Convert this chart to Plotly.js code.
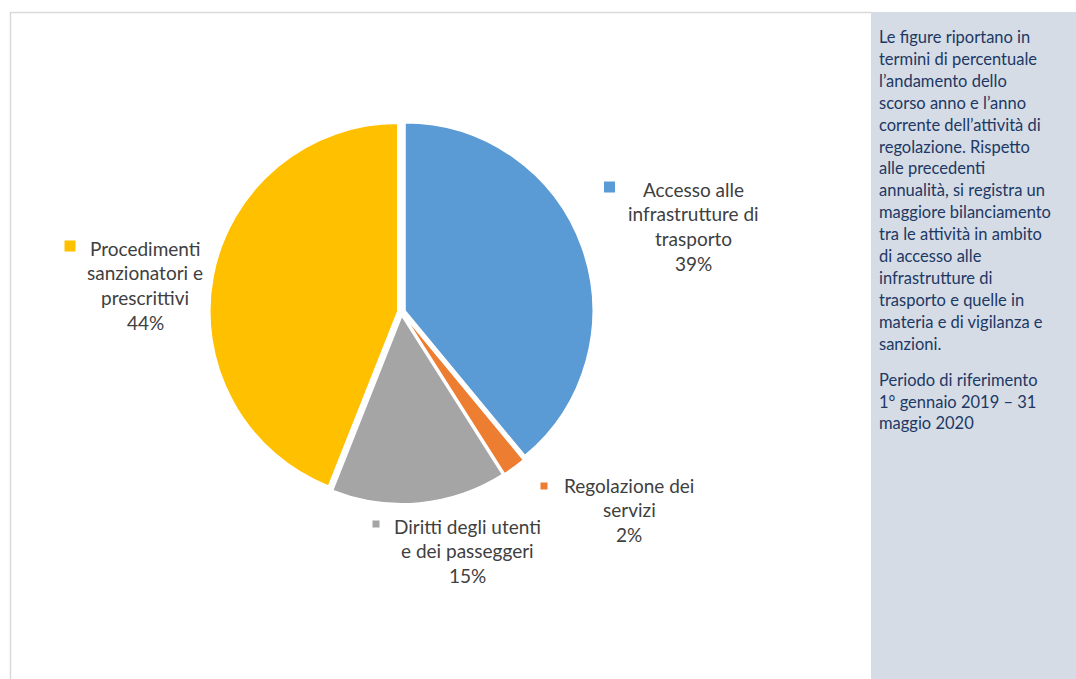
<!DOCTYPE html>
<html>
<head>
<meta charset="utf-8">
<script src="https://cdn.plot.ly/plotly-3.0.1.min.js"></script>
<style>
  html, body { margin: 0; padding: 0; background: #ffffff; }
  #chart { width: 1076px; height: 679px; }
</style>
</head>
<body>
<div id="chart"></div>
<script>
// ---- data ----
const categories = [
  "Accesso alle infrastrutture di trasporto",
  "Regolazione dei servizi",
  "Diritti degli utenti e dei passeggeri",
  "Procedimenti sanzionatori e prescrittivi"
];
const values = [39, 2, 15, 44];
const labelLines = [
  ["Accesso alle", "infrastrutture di", "trasporto"],
  ["Regolazione dei", "servizi"],
  ["Diritti degli utenti", "e dei passeggeri"],
  ["Procedimenti", "sanzionatori e", "prescrittivi"]
];
const noteParagraph1 = [
  "Le figure riportano in",
  "termini di percentuale",
  "l\u2019andamento dello",
  "scorso anno e l\u2019anno",
  "corrente dell\u2019attività di",
  "regolazione. Rispetto",
  "alle precedenti",
  "annualità, si registra un",
  "maggiore bilanciamento",
  "tra le attività in ambito",
  "di accesso alle",
  "infrastrutture di",
  "trasporto e quelle in",
  "materia e di vigilanza e",
  "sanzioni."
];
const noteParagraph2 = [
  "Periodo di riferimento",
  "1° gennaio 2019 \u2013 31",
  "maggio 2020"
];

// ---- style / layout ----
const W = 1076, H = 679;
const colors = ["#5B9BD5", "#ED7D31", "#A5A5A5", "#FFC000"];
const px = x => x / W;
const py = y => 1 - y / H;
const labelFont = "Lato, 'Open Sans', sans-serif";
const labelColor = "#404040";
// label block placement: [centerX, firstLineY, squareX, squareY, squareSize]
const labelPos = [
  [693.5, 189, 609.5, 187, 11],
  [629, 485, 544, 486, 7],
  [467.5, 526, 376, 524, 7],
  [145, 248, 70, 246, 11]
];
const lineStep = 24.7;

const annotations = [];
const shapes = [];

// frame and side panel
shapes.push({type: "rect", xref: "paper", yref: "paper",
  x0: px(871), x1: px(1076), y0: py(679), y1: py(12),
  fillcolor: "#D6DCE5", line: {width: 0}, layer: "below"});
shapes.push({type: "line", xref: "paper", yref: "paper",
  x0: px(10), x1: px(871), y0: py(12.5), y1: py(12.5),
  line: {color: "#D9D9D9", width: 1.5}});
shapes.push({type: "line", xref: "paper", yref: "paper",
  x0: px(10.5), x1: px(10.5), y0: py(12), y1: py(679),
  line: {color: "#D9D9D9", width: 1.5}});

labelLines.forEach((lines, i) => {
  const [cx, y0, sx, sy, ss] = labelPos[i];
  const all = lines.concat([values[i] + "%"]);
  all.forEach((t, k) => {
    annotations.push({
      xref: "paper", yref: "paper",
      x: px(cx), y: py(y0 + k * lineStep),
      xanchor: "center", yanchor: "middle",
      text: t, showarrow: false,
      font: {family: labelFont, size: 19, color: labelColor}
    });
  });
  shapes.push({type: "rect", xref: "paper", yref: "paper",
    x0: px(sx - ss / 2), x1: px(sx + ss / 2),
    y0: py(sy + ss / 2), y1: py(sy - ss / 2),
    fillcolor: colors[i], line: {width: 0}});
});

const noteFont = {family: labelFont, size: 16.5, color: "#203864"};
noteParagraph1.forEach((t, k) => {
  annotations.push({xref: "paper", yref: "paper",
    x: px(877), y: py(37 + k * 21.9), xanchor: "left", yanchor: "middle",
    text: t, showarrow: false, font: noteFont});
});
noteParagraph2.forEach((t, k) => {
  annotations.push({xref: "paper", yref: "paper",
    x: px(877), y: py(380 + k * 21.6), xanchor: "left", yanchor: "middle",
    text: t, showarrow: false, font: noteFont});
});

const pull = 0.02;
const r = 188;
const cx = 401.5, cy = 312;
const half = r * (1 + pull);

const trace = {
  type: "pie",
  labels: categories,
  values: values,
  sort: false,
  direction: "clockwise",
  rotation: 0,
  pull: pull,
  textinfo: "none",
  hoverinfo: "label+percent",
  marker: {colors: colors, line: {color: "#ffffff", width: 1.5}},
  domain: {x: [px(cx - half), px(cx + half)], y: [py(cy + half), py(cy - half)]},
  showlegend: false
};

const layout = {
  width: W, height: H,
  margin: {l: 0, r: 0, t: 0, b: 0},
  paper_bgcolor: "#ffffff",
  showlegend: false,
  shapes: shapes,
  annotations: annotations
};

Plotly.newPlot("chart", [trace], layout, {displayModeBar: false, staticPlot: true});
</script>
</body>
</html>
